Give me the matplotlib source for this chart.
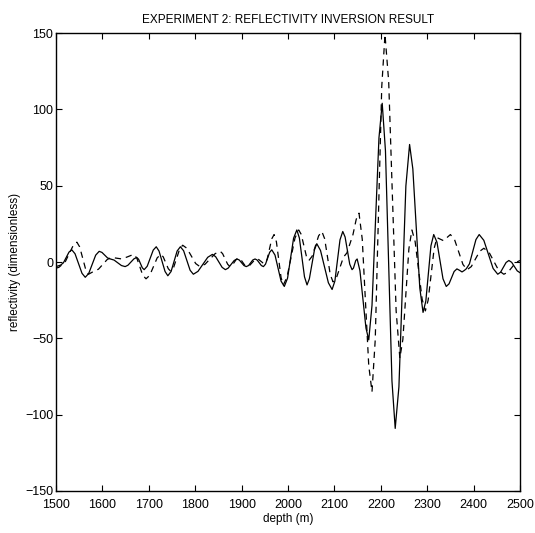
import numpy as np
import matplotlib
matplotlib.use('Agg')
import matplotlib.pyplot as plt

plt.rcParams['font.family'] = ['Liberation Sans', 'DejaVu Sans']

# solid line (inverted reflectivity)
depth_solid = [1500, 1505, 1510, 1516, 1522, 1528, 1534, 1541, 1548.5, 1556, 1563,
               1570.5, 1578, 1585.5, 1593, 1599, 1605, 1611, 1617, 1625, 1633, 1641, 1649,
               1655, 1661.5, 1668, 1674, 1678, 1682, 1686, 1690, 1696.5, 1703, 1709.5, 1716,
               1722, 1728.5, 1735, 1741, 1748, 1754.5, 1761, 1768, 1775, 1782, 1789, 1796,
               1806, 1816.5, 1827, 1837, 1844, 1851, 1858, 1865, 1871, 1877.5, 1884, 1890,
               1895, 1900, 1905, 1910, 1915, 1919.5, 1924, 1929, 1933.5, 1938, 1942.5, 1947,
               1951.5, 1956, 1960.5, 1965, 1972, 1978.5, 1985, 1992, 1999, 2005.5, 2012, 2019,
               2024.5, 2030, 2035.5, 2041, 2046, 2051.5, 2057, 2062, 2070, 2078.5, 2087, 2095,
               2101, 2106.5, 2112, 2118, 2123, 2128, 2133, 2138, 2141, 2143.5, 2146, 2149,
               2155, 2161.5, 2168, 2174, 2181, 2188.5, 2196, 2203, 2210, 2217, 2224, 2231,
               2239, 2246.5, 2254, 2262, 2269, 2276.5, 2284, 2291, 2297, 2302.5, 2308, 2314,
               2321, 2327.5, 2334, 2341, 2347, 2352.5, 2358, 2364, 2370, 2375, 2380, 2384,
               2391, 2398, 2405, 2412, 2422, 2432, 2442, 2452, 2458, 2464, 2470, 2476,
               2482, 2488, 2494, 2500]
refl_solid = [-3, -2.5, -2, -0.5, 3, 6.5, 8, 5.4, -1, -7.4, -10,
              -7.5, -1.5, 4.5, 7, 6.3, 4.5, 2.7, 2, 1.3, -0.5, -2.3, -3,
              -2.1, 0, 2.1, 3, 1.8, -1, -3.8, -5, -2.8, 2.5, 7.8, 10,
              7.2, 0.5, -6.2, -9, -6.2, 0.5, 7.2, 10, 7.4, 1, -5.4, -8,
              -6.1, -1.5, 3.1, 5, 3.5, 0, -3.5, -5, -4, -1.5, 1, 2,
              1.3, -0.5, -2.3, -3, -2.3, -0.5, 1.3, 2, 1.3, -0.5, -2.3, -3,
              -1.4, 2.5, 6.4, 8, 4.5, -4, -12.5, -16, -10.6, 2.5, 15.6, 21,
              15.7, 3, -9.7, -15, -11, -1.5, 8, 12, 7.6, -3, -13.6, -18,
              -12.5, 1, 14.5, 20, 16.4, 7.5, -1.4, -5, -4, -1.5, 1, 2,
              -5.7, -24.5, -43.3, -51, -28.4, 26.5, 81.4, 104, 72.9, -2.5, -77.9, -109,
              -81.8, -16, 49.8, 77, 61, 22, -17, -33, -25.6, -7.5, 10.6, 18,
              13, 1, -11, -16, -14.3, -10.3, -6.2, -4.5, -5.5, -6.5, -5.5, -4.5,
              -1.2, 6.8, 14.7, 18, 14.2, 5, -4.2, -8, -6.7, -3.5, -0.3, 1,
              -0.2, -3, -5.8, -7]

# dashed line (true reflectivity)
depth_dash = [1500, 1506, 1512, 1520, 1528.5, 1537, 1545, 1551, 1557.5, 1564, 1570,
              1582, 1591.5, 1601, 1610.5, 1620, 1631, 1642, 1655, 1667, 1674, 1680.5, 1687,
              1694, 1702, 1710, 1718, 1726, 1731, 1736.5, 1742, 1747, 1753.5, 1760, 1766.5,
              1773, 1782, 1791.5, 1801, 1810, 1821, 1832, 1843, 1854, 1859, 1864.5, 1870,
              1875, 1879.5, 1884, 1888.5, 1893, 1898, 1902.5, 1907, 1912, 1917, 1922.5, 1928,
              1933, 1937, 1941.5, 1946, 1950, 1955, 1960, 1965, 1970, 1975, 1980, 1985,
              1990, 1998, 2006.5, 2015, 2023, 2028.5, 2034, 2039.5, 2045, 2052, 2059, 2066,
              2073, 2079, 2085, 2091, 2097, 2104.5, 2112, 2119.5, 2127, 2140, 2147, 2153,
              2160, 2167, 2174, 2181, 2188, 2195, 2202, 2209, 2217, 2225, 2233, 2241,
              2247.5, 2254, 2260.5, 2267, 2274, 2281.5, 2289, 2296, 2302, 2308.5, 2315, 2321,
              2328, 2335, 2350, 2359, 2368, 2377, 2386, 2395, 2404, 2413, 2422,
              2433, 2443.5, 2454, 2465, 2474, 2482.5, 2491, 2500]
refl_dash = [-4, -3.5, -2, 0.2, 5.5, 10.8, 13, 9.9, 2.5, -4.9, -8,
             -6, -4.7, -1.5, 1.7, 3, 2.5, 2, 3.5, 5, 2.7, -3, -8.7,
             -11, -8.7, -3, 2.7, 5, 3.4, -0.5, -4.4, -6, -3.5, 2.5, 8.5,
             11, 9, 4, -1, -3, -1.5, 2, 5.5, 7, 5.5, 2, -1.5,
             -3, -2.2, -0.3, 1.7, 2.5, 1.7, -0.3, -2.2, -3, -2.3, -0.5, 1.3,
             2, 1.6, 0.5, -0.6, -1, 1.8, 8.5, 15.2, 18, 13.2, 1.5, -10.2,
             -15, -9.7, 3, 15.7, 21, 18.1, 11, 3.9, 1, 3.8, 10.5, 17.2,
             20, 15.2, 3.5, -8.2, -13, -10.2, -3.5, 3.2, 6, 18, 28, 32,
             14.9, -26.5, -67.9, -85, -50.8, 32, 114.8, 149, 118, 43, -32, -63,
             -50.7, -21, 8.7, 21, 13.3, -5.5, -24.3, -32, -25, -8, 9, 16,
             15, 14, 18, 14.6, 6.5, -1.6, -5, -3, 2, 7, 9,
             6.5, 0.5, -5.5, -8, -6.7, -3.5, -0.3, 1]

xticks = [1500, 1600, 1700, 1800, 1900, 2000, 2100, 2200, 2300, 2400, 2500]
yticks = [-150, -100, -50, 0, 50, 100, 150]

fig = plt.figure(figsize=(5.35, 5.33), dpi=100)
ax = fig.add_axes([0.1047, 0.0788, 0.8673, 0.8592])

ax.plot(depth_solid, refl_solid, color='black', linewidth=0.9, linestyle='-')
ax.plot(depth_dash, refl_dash, color='black', linewidth=0.9, linestyle=(0, (5, 4)))

ax.set_xlim(1500, 2500)
ax.set_ylim(-150, 150)
ax.set_xticks(xticks)
ax.set_yticks(yticks)
ax.tick_params(direction='in', top=True, right=True, length=4, width=0.8,
               labelsize=9)
ax.tick_params(axis='x', pad=6)
ax.tick_params(axis='y', pad=2)
for s in ax.spines.values():
    s.set_linewidth(1.0)

ax.set_title('EXPERIMENT 2: REFLECTIVITY INVERSION RESULT', fontsize=8.5, pad=7)
ax.set_xlabel('depth (m)', fontsize=8.5, labelpad=1)
ax.set_ylabel('reflectivity (dimensionless)', fontsize=8.5, labelpad=3)

fig.savefig('out.png', dpi=100)
